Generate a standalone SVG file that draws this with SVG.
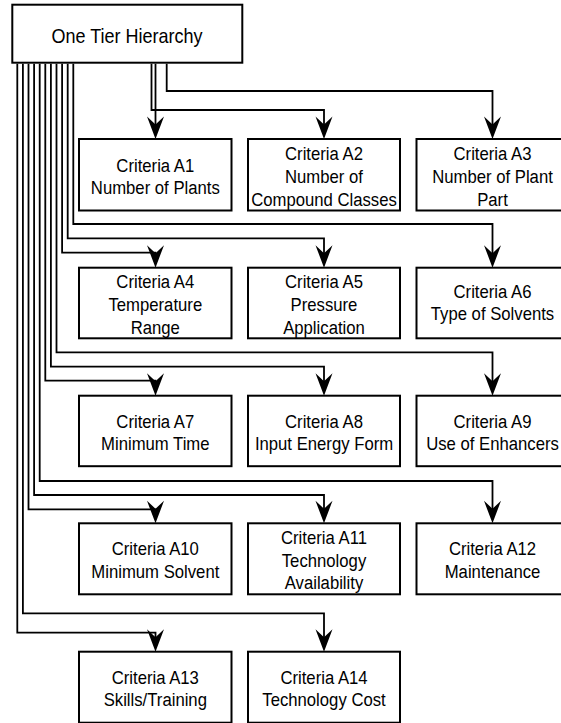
<svg xmlns="http://www.w3.org/2000/svg" width="561" height="723" viewBox="0 0 561 723">
<style>
.box{fill:#fff;stroke:#000;stroke-width:2}
.t{font-family:"Liberation Sans",Arial,sans-serif;font-size:16.7px;fill:#000;text-anchor:middle}
.root{font-size:18px}
.c{fill:none;stroke:#000;stroke-width:1.8;marker-end:url(#ah)}
</style>
<defs>
<marker id="ah" markerUnits="userSpaceOnUse" orient="auto" viewBox="-14 -9 25 18" refX="0" refY="0" markerWidth="25" markerHeight="18" overflow="visible">
<path d="M10,0 L-12.5,-8.5 L-4.5,0 L-12.5,8.5 Z" fill="#000"/>
</marker>
</defs>
<rect width="561" height="723" fill="#fff"/>
<g id="root"><rect class="box" x="12.3" y="4.7" width="230" height="58"/><text class="t root" transform="translate(127,42.5) scale(1,1.08)">One Tier Hierarchy</text></g>
<g id="A1"><rect class="box" x="79" y="139" width="152.5" height="71.5"/><text class="t" transform="translate(155.3,171.5) scale(1,1.08)">Criteria A1</text><text class="t" transform="translate(155.3,193.5) scale(1,1.08)">Number of Plants</text></g>
<g id="A2"><rect class="box" x="248" y="139" width="152" height="71.5"/><text class="t" transform="translate(324,159.5) scale(1,1.08)">Criteria A2</text><text class="t" transform="translate(324,182.5) scale(1,1.08)">Number of</text><text class="t" transform="translate(324,205.5) scale(1,1.08)">Compound Classes</text></g>
<g id="A3"><rect class="box" x="416.5" y="139" width="152" height="71.5"/><text class="t" transform="translate(492.5,159.5) scale(1,1.08)">Criteria A3</text><text class="t" transform="translate(492.5,182.5) scale(1,1.08)">Number of Plant</text><text class="t" transform="translate(492.5,205.5) scale(1,1.08)">Part</text></g>
<g id="A4"><rect class="box" x="79" y="267.7" width="152.5" height="70.6"/><text class="t" transform="translate(155.3,288.3) scale(1,1.08)">Criteria A4</text><text class="t" transform="translate(155.3,311.2) scale(1,1.08)">Temperature</text><text class="t" transform="translate(155.3,334) scale(1,1.08)">Range</text></g>
<g id="A5"><rect class="box" x="248" y="267.7" width="152" height="70.6"/><text class="t" transform="translate(324,288.3) scale(1,1.08)">Criteria A5</text><text class="t" transform="translate(324,311.2) scale(1,1.08)">Pressure</text><text class="t" transform="translate(324,334) scale(1,1.08)">Application</text></g>
<g id="A6"><rect class="box" x="416.5" y="267.7" width="152" height="70.6"/><text class="t" transform="translate(492.5,298) scale(1,1.08)">Criteria A6</text><text class="t" transform="translate(492.5,320.3) scale(1,1.08)">Type of Solvents</text></g>
<g id="A7"><rect class="box" x="79" y="395.7" width="152.5" height="70.5"/><text class="t" transform="translate(155.3,427.7) scale(1,1.08)">Criteria A7</text><text class="t" transform="translate(155.3,450) scale(1,1.08)">Minimum Time</text></g>
<g id="A8"><rect class="box" x="248" y="395.7" width="152" height="70.5"/><text class="t" transform="translate(324,427.7) scale(1,1.08)">Criteria A8</text><text class="t" transform="translate(324,450) scale(1,1.08)">Input Energy Form</text></g>
<g id="A9"><rect class="box" x="416.5" y="395.7" width="152" height="70.5"/><text class="t" transform="translate(492.5,427.7) scale(1,1.08)">Criteria A9</text><text class="t" transform="translate(492.5,450) scale(1,1.08)">Use of Enhancers</text></g>
<g id="A10"><rect class="box" x="79" y="523.3" width="152.5" height="71"/><text class="t" transform="translate(155.3,555.3) scale(1,1.08)">Criteria A10</text><text class="t" transform="translate(155.3,577.6) scale(1,1.08)">Minimum Solvent</text></g>
<g id="A11"><rect class="box" x="248" y="523.3" width="152" height="71"/><text class="t" transform="translate(324,544.2) scale(1,1.08)">Criteria A11</text><text class="t" transform="translate(324,566.8) scale(1,1.08)">Technology</text><text class="t" transform="translate(324,589.4) scale(1,1.08)">Availability</text></g>
<g id="A12"><rect class="box" x="416.5" y="523.3" width="152" height="71"/><text class="t" transform="translate(492.5,555.3) scale(1,1.08)">Criteria A12</text><text class="t" transform="translate(492.5,577.6) scale(1,1.08)">Maintenance</text></g>
<g id="A13"><rect class="box" x="79" y="651.7" width="152.5" height="71"/><text class="t" transform="translate(155.3,683.7) scale(1,1.08)">Criteria A13</text><text class="t" transform="translate(155.3,706) scale(1,1.08)">Skills/Training</text></g>
<g id="A14"><rect class="box" x="248" y="651.7" width="152" height="71"/><text class="t" transform="translate(324,683.7) scale(1,1.08)">Criteria A14</text><text class="t" transform="translate(324,706) scale(1,1.08)">Technology Cost</text></g>
<g id="connectors">
<polyline class="c" points="155.5,63.7 155.5,129"/>
<polyline class="c" points="151.5,63.7 151.5,110 324,110 324,129"/>
<polyline class="c" points="166.7,63.7 166.7,91 492.5,91 492.5,129"/>
<polyline class="c" points="62.1,63.7 62.1,252.7 155.5,252.7 155.5,257.7"/>
<polyline class="c" points="67.7,63.7 67.7,238.3 324,238.3 324,257.7"/>
<polyline class="c" points="73.3,63.7 73.3,224 492.5,224 492.5,257.7"/>
<polyline class="c" points="45.3,63.7 45.3,380.7 155.5,380.7 155.5,385.7"/>
<polyline class="c" points="50.9,63.7 50.9,366.7 324,366.7 324,385.7"/>
<polyline class="c" points="56.5,63.7 56.5,352.3 492.5,352.3 492.5,385.7"/>
<polyline class="c" points="28.5,63.7 28.5,509.3 155.5,509.3 155.5,513.3"/>
<polyline class="c" points="34.1,63.7 34.1,495 324,495 324,513.3"/>
<polyline class="c" points="39.7,63.7 39.7,481 492.5,481 492.5,513.3"/>
<polyline class="c" points="17.3,63.7 17.3,632.7 155.5,632.7 155.5,641.7"/>
<polyline class="c" points="22.9,63.7 22.9,613.3 324,613.3 324,641.7"/>
</g>
</svg>
